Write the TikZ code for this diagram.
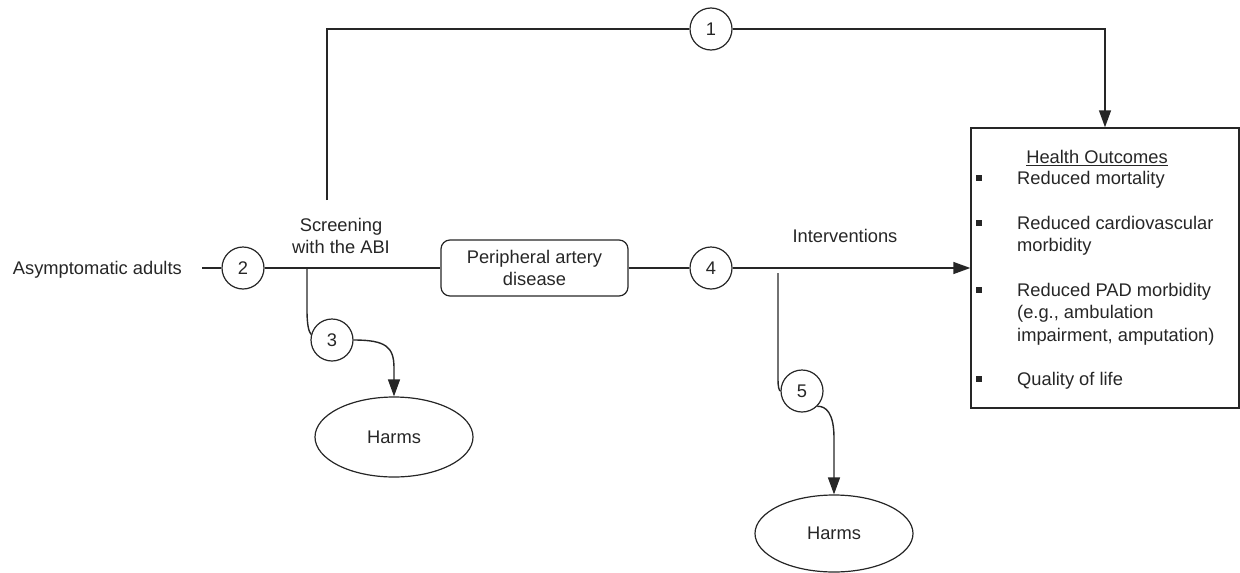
\documentclass[tikz,border=0pt]{standalone}
\usepackage{fontspec}
\setmainfont{Liberation Sans}
\usetikzlibrary{shapes.geometric,arrows.meta}
\begin{document}
\begin{tikzpicture}[x=1pt,y=-1pt,
  every node/.style={font=\fontsize{18.3}{22}\selectfont, text=black!85},
  line/.style={line width=1.4pt, draw=black!85},
  arr/.style={line, -{Triangle[length=17pt,width=12pt]}},
  num/.style={circle, draw=black!85, line width=1.2pt, minimum size=42pt, inner sep=0pt, fill=white},
  padbox/.style={rectangle, rounded corners=9pt, draw=black!85, line width=1.2pt, minimum width=187pt, minimum height=56pt, align=center, inner sep=0pt},
  harm/.style={ellipse, draw=black!85, line width=1.2pt, minimum width=158pt, inner sep=0pt},
  bul/.style={rectangle, fill=black!85, minimum size=5.5pt, inner sep=0pt},
  btxt/.style={anchor=base west, inner sep=0pt}
]
\useasboundingbox (0,0) rectangle (1240,573);

% nodes
\node[anchor=base east, inner sep=0pt] (asym) at (182,274.5) {Asymptomatic adults};
\node[num] (c2) at (243,268) {2};
\node[num] (c1) at (711,29) {1};
\node[num] (c3) at (332,340) {3};
\node[num] (c4) at (711,268) {4};
\node[num] (c5) at (802,391) {5};
\node[padbox] (pad) at (534.5,268) {Peripheral artery\\disease};
\node[harm, minimum height=80pt] (h1) at (394,437) {Harms};
\node[harm, minimum height=77pt] (h2) at (834,533.5) {Harms};
\node[align=center, inner sep=0pt] (scr) at (341,236) {Screening\\with the ABI};
\node[inner sep=0pt] (int) at (845,236) {Interventions};
\node[draw=black!85, line width=1.4pt, minimum width=268pt, minimum height=280pt, inner sep=0pt] (out) at (1105,268) {};

% box content
\node[anchor=base, inner sep=0pt] (ho) at (1097,163.5) {\underline{Health Outcomes}};
\node[bul] (b1) at (979,178) {};
\node[btxt] (t1) at (1017,184.5) {Reduced mortality};
\node[bul] (b2) at (979,223) {};
\node[btxt] (t2a) at (1017,229.5) {Reduced cardiovascular};
\node[btxt] (t2b) at (1017,251.5) {morbidity};
\node[bul] (b3) at (979,290) {};
\node[btxt] (t3a) at (1017,296.5) {Reduced PAD morbidity};
\node[btxt] (t3b) at (1017,318.5) {(e.g., ambulation};
\node[btxt] (t3c) at (1017,341) {impairment, amputation)};
\node[bul] (b4) at (979,379) {};
\node[btxt] (t4) at (1017,385.5) {Quality of life};

% coordinates
\coordinate (a0) at (202,268);
\coordinate (s0) at (327,200);
\coordinate (j1) at (307,268);
\coordinate (j2) at (778,273);

% connectors
\draw[line] (a0) -- (c2);
\draw[line] (c2) -- (pad);
\draw[line] (pad) -- (c4);
\draw[arr] (c4) -- (out);
\draw[line] (s0) |- (c1);
\draw[arr] (c1) -| (out);
\draw[line] (j1) -- (307,310) .. controls (307,326) and (309,332) .. (c3.165);
\draw[arr] (c3.east) .. controls (386,340) and (394,347) .. (394,368) -- (h1.north);
\draw[line] (j2) -- (778,378) .. controls (778,388) and (779,390) .. (c5.west);
\draw[arr] (c5.-45) .. controls (826,406) and (834,413) .. (834,438) -- (h2.north);
\end{tikzpicture}
\end{document}
